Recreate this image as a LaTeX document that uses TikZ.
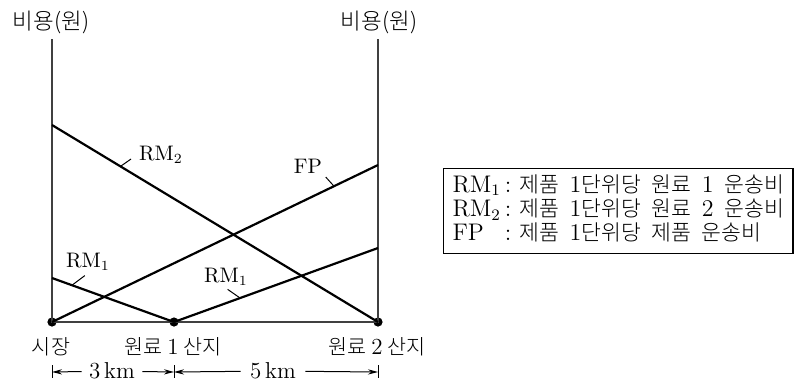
\documentclass[tikz,border=0pt]{standalone}
\usepackage{fontspec}
\newfontfamily\kr[Scale=0.9]{Noto Sans CJK KR Light}
\usetikzlibrary{arrows.meta}
\usetikzlibrary{positioning}
\newcommand\ws{\hspace{5.3pt}}

\begin{document}
\begin{tikzpicture}[x=0.5pt,y=-0.5pt,
		axis/.style={draw=black!75,line width=0.6pt},
		cost/.style={draw,line width=1.1pt},
		spot/.style={circle,fill,inner sep=0pt,minimum size=4.6pt},
		leader/.style={line width=0.5pt,shorten >=1pt},
		tag/.style={font=\fontsize{10.5}{12}\selectfont,inner sep=1pt},
		place/.style={font=\fontsize{11.5}{13}\selectfont,inner sep=1pt},
		span/.style={place,inner xsep=3.5pt},
		dim/.style={-{Stealth[length=5pt,width=2.6pt]},line width=0.5pt},
		tick/.style={line width=0.5pt}]
	\useasboundingbox (0,0) rectangle (801,382);
	\node[spot] (mkt) at (52,322) {};
	\node[spot] (src1) at (174,322) {};
	\node[spot] (src2) at (378,322) {};
	\node[place,font=\fontsize{12.5}{14}\selectfont] (cost1) at (51,22) {\kr 비용(원)};
	\node[place,font=\fontsize{12.5}{14}\selectfont] (cost2) at (379,22) {\kr 비용(원)};
	\coordinate (ltop) at (52,39);
	\coordinate (rtop) at (378,39);
	\draw[axis] (ltop) -- (mkt.center) -- (src2.center) -- (rtop);
	\coordinate (rm2a) at (52,125);
	\coordinate (fpb) at (378,165);
	\coordinate (rm1a) at (52,278);
	\coordinate (rm1b) at (378,248);
	\draw[cost] (rm2a) -- coordinate[pos=0.21] (rm2p) (src2.center);
	\draw[cost] (mkt.center) -- coordinate[pos=0.865] (fpp) (fpb);
	\draw[cost] (rm1a) -- coordinate[pos=0.164] (rm1p) (src1.center);
	\draw[cost] (src1.center) -- coordinate[pos=0.324] (rm1q) (rm1b);
	\node[tag] (rm2tag) at (161,155) {RM$_2$};
	\node[tag] (fptag) at (308,166) {FP};
	\node[tag] (rm1ltag) at (88,262) {RM$_1$};
	\node[tag] (rm1rtag) at (226,277) {RM$_1$};
	\draw[leader,shorten >=3.5pt] (rm2p) -- (rm2tag.west);
	\draw[leader] (fpp) -- (fptag.south east);
	\draw[leader,shorten >=2pt] (rm1p) -- (rm1ltag.south);
	\draw[leader] (rm1q) -- (rm1rtag.south);
	\node[place] (mktlbl) at (51,347) {\kr 시장};
	\node[place] (src1lbl) at (173,347) {{\kr 원료}\hspace{2.5pt}1\hspace{2.5pt}{\kr 산지}};
	\node[place] (src2lbl) at (377,347) {{\kr 원료}\hspace{2.5pt}2\hspace{2.5pt}{\kr 산지}};
	\coordinate (d0) at (52,372);
	\coordinate (d1) at (174,372);
	\coordinate (d2) at (378,372);
	\draw[tick] ([yshift=3.5pt]d0) -- ([yshift=-3pt]d0);
	\draw[tick] ([yshift=3.5pt]d1) -- ([yshift=-3pt]d1);
	\draw[tick] ([yshift=3.5pt]d2) -- ([yshift=-3pt]d2);
	\node[span] (km3) at (112,371) {3\,km};
	\node[span,inner xsep=4.5pt] (km5) at (273,371) {5\,km};
	\draw[dim] (km3) -- (d0);
	\draw[dim] (km3) -- (d1);
	\draw[dim] (km5) -- (d1);
	\draw[dim] (km5) -- (d2);
	\node[draw,line width=0.6pt,inner xsep=4.5pt,inner ysep=3pt,anchor=north west,
		font=\fontsize{12}{10.75}\selectfont] (legend) at (443,168)
		{\renewcommand\arraystretch{1}%
		\begin{tabular}{@{}l@{\,}l@{}}
			RM$_1$ & :\ {\kr 제품}\ws 1{\kr 단위당}\ws{\kr 원료}\ws 1\ws{\kr 운송비}\\
			RM$_2$ & :\ {\kr 제품}\ws 1{\kr 단위당}\ws{\kr 원료}\ws 2\ws{\kr 운송비}\\
			FP & :\ {\kr 제품}\ws 1{\kr 단위당}\ws{\kr 제품}\ws{\kr 운송비}
		\end{tabular}};
\end{tikzpicture}
\end{document}
